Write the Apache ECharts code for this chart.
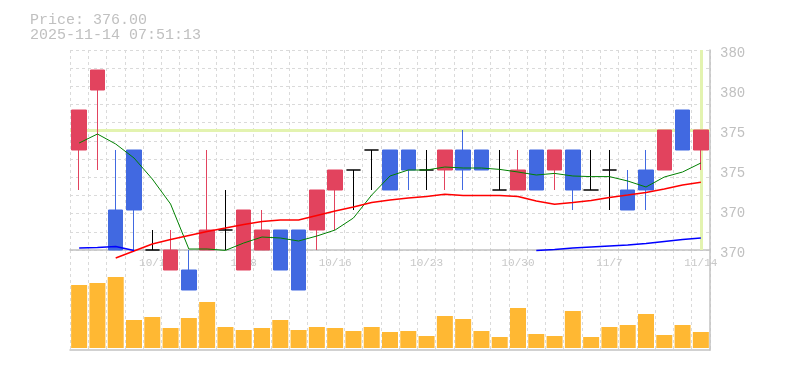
<!DOCTYPE html>
<html>
<head>
<meta charset="utf-8">
<script src="https://cdn.jsdelivr.net/npm/echarts@6/dist/echarts.min.js"></script>
<style>
  html, body { margin: 0; padding: 0; background: #fff; }
  #chart { width: 785px; height: 370px; }
</style>
</head>
<body>
<div id="chart"></div>
<script>
// trading days, oldest first
const dates = ['9/25','9/26','9/29','9/30','10/1','10/2','10/3','10/6','10/7','10/8',
  '10/9','10/10','10/14','10/15','10/16','10/17','10/20','10/21','10/22','10/23',
  '10/24','10/27','10/28','10/29','10/30','10/31','11/4','11/5','11/6','11/7',
  '11/10','11/11','11/12','11/13','11/14'];
const labelDates = ['10/1','10/8','10/16','10/23','10/30','11/7','11/14'];

// [open, close, low, high]
const ohlc = [
  [375,377,373,377],[378,379,374,379],[372,370,370,375],[375,372,370,375],[370,370,370,371],
  [369,370,369,371],[369,368,368,370],[370,371,370,375],[371,371,370,373],[369,372,369,372],
  [370,371,370,372],[371,369,369,371],[371,368,368,371],[371,373,370,373],[373,374,371,374],
  [374,374,372,374],[375,375,373,375],[375,373,373,375],[375,374,373,375],[374,374,373,375],
  [374,375,373,375],[375,374,373,376],[375,374,374,375],[373,373,373,375],[373,374,373,375],
  [375,373,373,375],[374,375,373,375],[375,373,372,375],[373,373,373,375],[374,374,372,375],
  [373,372,372,374],[374,373,372,375],[374,376,374,376],[377,375,375,377],[375,376,374,376]
];

const ma5 = [375.35,375.8,375.3,374.6,373.55,372.3,370.05,370.05,369.98,370.35,
  370.65,370.6,370.45,370.7,371.0,371.6,372.75,373.7,374.0,374.0,
  374.15,374.1,374.1,374.03,373.9,373.75,373.83,373.7,373.67,373.67,
  373.45,373.15,373.65,373.9,374.35];

const ma25 = [null,null,369.6,369.95,370.3,370.53,370.73,370.93,371.1,371.28,
  371.43,371.5,371.5,371.73,371.95,372.15,372.38,372.5,372.6,372.68,
  372.79,372.73,372.72,372.72,372.68,372.45,372.29,372.38,372.48,372.63,
  372.75,372.88,373.05,373.25,373.39];

const ma75 = [370.1,370.13,370.17,369.98,null,null,null,null,null,null,
  null,null,null,null,null,null,null,null,null,null,
  null,null,null,null,null,369.98,370.03,370.1,370.15,370.2,
  370.25,370.33,370.43,370.53,370.6];

const volume = [63,65,71,28,31,20,30,46,21,18,20,28,18,21,20,17,21,16,
  17,12,32,29,17,11,40,14,12,37,11,21,23,34,13,23,16];

const yTicks = [370, 380, 2];
const lastPrice = 376;

let chart = echarts.init(document.getElementById('chart'));
const mono = 'Liberation Mono';
const dashGrid = { show: true, lineStyle: { color: '#dadada', type: [3, 3], width: 1 } };

let option = {
  animation: false,
  title: {
    text: 'Price: 376.00',
    subtext: '2025-11-14 07:51:13',
    left: 25,
    top: 8,
    itemGap: 0,
    textStyle: { fontFamily: mono, fontSize: 15, fontWeight: 'normal', color: '#c0c0c0' },
    subtextStyle: { fontFamily: mono, fontSize: 15, color: '#c0c0c0' }
  },
  grid: [
    { left: 70, right: 75, top: 50, height: 200 },
    { left: 70, right: 75, top: 250, height: 100 }
  ],
  xAxis: [
    {
      type: 'category', gridIndex: 0, data: dates, boundaryGap: true,
      axisLine: { lineStyle: { color: '#c2c2c2', width: 1.5 } },
      axisTick: { show: false },
      axisLabel: {
        interval: (i, v) => labelDates.includes(v),
        color: '#c8c8c8', fontFamily: mono, fontSize: 11, margin: 8
      },
      splitLine: Object.assign({ interval: 0 }, dashGrid)
    },
    {
      type: 'category', gridIndex: 1, data: dates, boundaryGap: true,
      axisLine: { onZero: false, lineStyle: { color: '#c2c2c2', width: 1.5 } },
      axisTick: { show: false },
      axisLabel: { show: false },
      splitLine: Object.assign({ interval: 0 }, dashGrid)
    }
  ],
  yAxis: [
    {
      type: 'value', gridIndex: 0, position: 'right', scale: true,
      min: yTicks[0], max: yTicks[1], interval: yTicks[2],
      axisLine: { show: true, lineStyle: { color: '#c2c2c2', width: 1.5 } },
      axisTick: { show: false },
      splitLine: { show: false },
      axisLabel: {
        color: '#c0c0c0', fontFamily: mono, fontSize: 14, margin: 10,
        verticalAlign: 'top', lineHeight: 6,
        formatter: v => String(Math.round(v / 5) * 5)
      }
    },
    {
      // only for the fine background grid
      type: 'value', gridIndex: 0, position: 'left', min: 0, max: 11, interval: 1,
      axisLine: { show: false }, axisTick: { show: false }, axisLabel: { show: false },
      splitLine: dashGrid
    },
    {
      type: 'value', gridIndex: 1, position: 'right', min: -2, max: 98,
      axisLine: { show: true, lineStyle: { color: '#c2c2c2', width: 1.5 } },
      axisTick: { show: false }, axisLabel: { show: false },
      splitLine: { show: false }
    }
  ],
  series: [
    {
      name: 'price', type: 'candlestick', xAxisIndex: 0, yAxisIndex: 0,
      data: ohlc, barWidth: 15, clip: false, z: 3,
      itemStyle: {
        color: '#e2435e', borderColor: '#e2435e',
        color0: '#4169e1', borderColor0: '#4169e1',
        borderColorDoji: '#000000', borderWidth: 1
      },
      markLine: {
        silent: true, symbol: 'none', z: 1,
        label: { show: false },
        lineStyle: { color: '#e3f3b0', width: 3, type: 'solid' },
        data: [{ yAxis: lastPrice }, { xAxis: dates[dates.length - 1] }]
      }
    },
    {
      name: 'MA5', type: 'line', data: ma5, xAxisIndex: 0, yAxisIndex: 0,
      symbol: 'none', clip: false, z: 4,
      lineStyle: { color: '#008000', width: 1 }
    },
    {
      name: 'MA25', type: 'line', data: ma25, xAxisIndex: 0, yAxisIndex: 0,
      symbol: 'none', clip: false, z: 4,
      lineStyle: { color: '#ff0000', width: 1.5 }
    },
    {
      name: 'MA75', type: 'line', data: ma75, xAxisIndex: 0, yAxisIndex: 0,
      symbol: 'none', clip: false, z: 4,
      lineStyle: { color: '#0000ff', width: 1.5 }
    },
    {
      name: 'volume', type: 'bar', data: volume, xAxisIndex: 1, yAxisIndex: 2,
      barWidth: 16, itemStyle: { color: '#ffb833' }
    }
  ]
};

chart.setOption(option);
</script>
</body>
</html>
